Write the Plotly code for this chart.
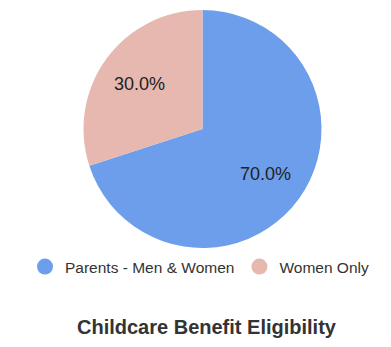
import math
import plotly.graph_objects as go

# Eligibility split for the childcare benefit
categories = ["Parents - Men & Women", "Women Only"]
shares = [70.0, 30.0]
colors = ["#6d9eeb", "#e6b8af"]

W, H = 391, 347
FONT = "Liberation Sans, Arial, sans-serif"

# Pie placement in pixels (left, right, top, bottom)
PX_L, PX_R, PX_T, PX_B = 83, 322, 10, 248
LABEL_RADIUS = 0.65  # fraction of the radius where percent labels sit

fig = go.Figure()

fig.add_trace(go.Pie(
    labels=categories,
    values=shares,
    marker=dict(colors=colors, line=dict(width=0)),
    sort=False,
    direction="clockwise",
    rotation=0,
    textinfo="none",
    hoverinfo="label+percent",
    showlegend=False,
    domain=dict(x=[PX_L / W, PX_R / W], y=[1 - PX_B / H, 1 - PX_T / H]),
))

# Percent labels placed at each slice's mid-angle
cx = (PX_L + PX_R) / 2
cy = (PX_T + PX_B) / 2
radius = min(PX_R - PX_L, PX_B - PX_T) / 2
total = sum(shares)
start = 0.0
for v in shares:
    frac = v / total
    mid = (start + frac / 2) * 2 * math.pi  # clockwise from 12 o'clock
    lx = cx + LABEL_RADIUS * radius * math.sin(mid)
    ly = cy - LABEL_RADIUS * radius * math.cos(mid)
    fig.add_annotation(
        text=f"{frac * 100:.1f}%",
        x=lx / W, y=1 - ly / H, xref="paper", yref="paper",
        xanchor="center", yanchor="middle", showarrow=False,
        font=dict(family=FONT, size=18, color="#222222"),
    )
    start += frac

# Legend entries with round markers
for name, col in zip(categories, colors):
    fig.add_trace(go.Scatter(
        x=[None], y=[None], mode="markers", name=name,
        marker=dict(symbol="circle", size=16, color=col),
        showlegend=True, hoverinfo="skip",
    ))

fig.add_annotation(
    text="<b>Childcare Benefit Eligibility</b>",
    x=207 / W, y=1 - 327 / H, xref="paper", yref="paper",
    xanchor="center", yanchor="middle", showarrow=False,
    font=dict(family=FONT, size=20, color="#333333"),
)

fig.update_layout(
    width=W, height=H,
    margin=dict(l=0, r=0, t=0, b=0),
    paper_bgcolor="white", plot_bgcolor="white",
    xaxis=dict(visible=False), yaxis=dict(visible=False),
    legend=dict(
        orientation="h", x=0.5 + 4 / W, xanchor="center",
        y=1 - 267 / H, yanchor="middle",
        font=dict(family=FONT, size=15.5, color="#333333"),
        itemclick=False,
    ),
)

fig.write_html("out.html")
